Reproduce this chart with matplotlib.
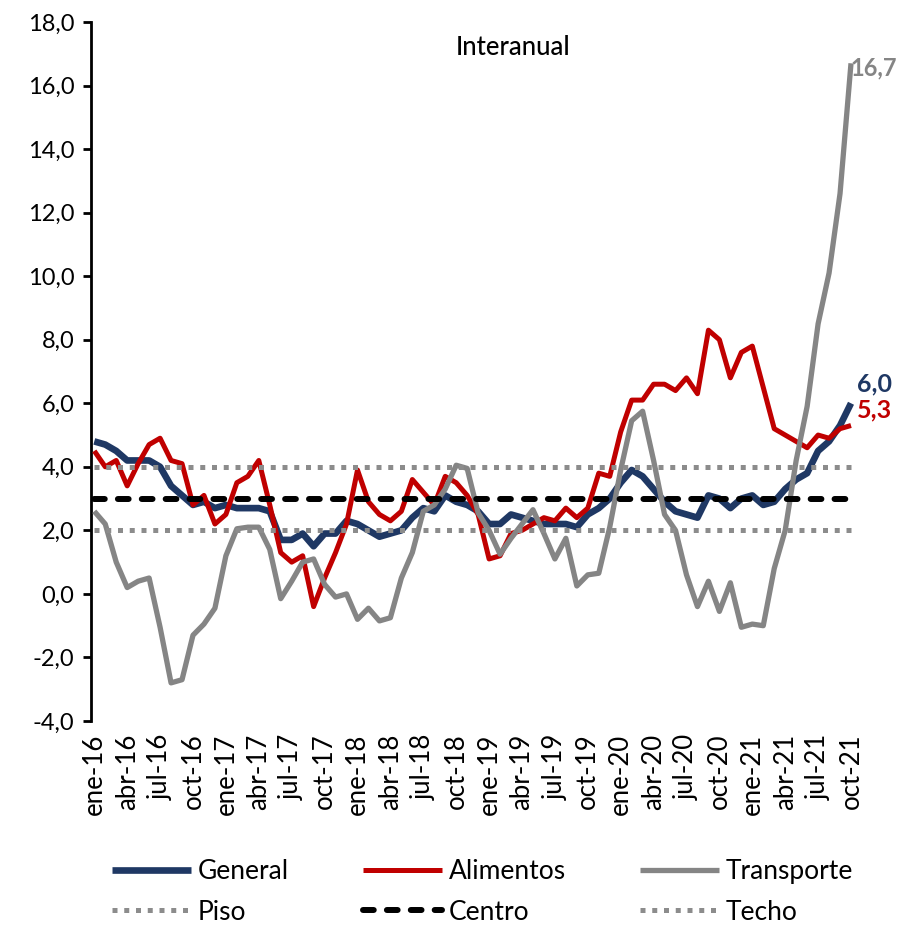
import matplotlib
matplotlib.use("Agg")
import matplotlib.pyplot as plt
from matplotlib.ticker import FuncFormatter

plt.rcParams['font.family'] = ['Lato', 'DejaVu Sans']

# ---------------- data (ene-16 .. oct-21, monthly) ----------------
general = [4.8, 4.7, 4.5, 4.2, 4.2, 4.2, 4.0, 3.4, 3.1, 2.8, 2.9, 2.7,
           2.8, 2.7, 2.7, 2.7, 2.6, 1.7, 1.7, 1.9, 1.5, 1.9, 1.9, 2.3,
           2.2, 2.0, 1.8, 1.9, 2.0, 2.4, 2.7, 2.6, 3.1, 2.9, 2.8, 2.6,
           2.2, 2.2, 2.5, 2.4, 2.3, 2.2, 2.2, 2.2, 2.1, 2.5, 2.7, 3.0,
           3.5, 3.9, 3.7, 3.3, 2.9, 2.6, 2.5, 2.4, 3.1, 3.0, 2.7, 3.0,
           3.1, 2.8, 2.9, 3.3, 3.6, 3.8, 4.5, 4.8, 5.3, 6.0]
alimentos = [4.5, 4.0, 4.2, 3.4, 4.1, 4.7, 4.9, 4.2, 4.1, 2.8, 3.1, 2.2,
             2.5, 3.5, 3.7, 4.2, 2.8, 1.3, 1.0, 1.2, -0.4, 0.5, 1.3, 2.2,
             3.9, 2.9, 2.5, 2.3, 2.6, 3.6, 3.2, 2.8, 3.7, 3.5, 3.1, 2.5,
             1.1, 1.2, 1.9, 2.0, 2.2, 2.4, 2.3, 2.7, 2.4, 2.7, 3.8, 3.7,
             5.1, 6.1, 6.1, 6.6, 6.6, 6.4, 6.8, 6.3, 8.3, 8.0, 6.8, 7.6,
             7.8, 6.5, 5.2, 5.0, 4.8, 4.6, 5.0, 4.9, 5.2, 5.3]
transporte = [2.6, 2.2, 1.0, 0.2, 0.4, 0.5, -1.05, -2.8, -2.7, -1.3, -0.95, -0.45,
              1.2, 2.05, 2.1, 2.1, 1.4, -0.15, 0.4, 1.0, 1.1, 0.3, -0.1, 0.0,
              -0.8, -0.45, -0.85, -0.75, 0.5, 1.3, 2.6, 2.8, 3.3, 4.05, 3.95, 2.55,
              2.0, 1.25, 1.75, 2.2, 2.65, 1.9, 1.1, 1.75, 0.25, 0.6, 0.65, 2.1,
              3.9, 5.45, 5.75, 4.2, 2.5, 2.0, 0.6, -0.4, 0.4, -0.55, 0.35, -1.05,
              -0.95, -1.0, 0.8, 2.0, 4.2, 5.9, 8.5, 10.1, 12.6, 16.7]
piso_value = 2.0
centro_value = 3.0
techo_value = 4.0
tick_labels = ['ene-16', 'abr-16', 'jul-16', 'oct-16', 'ene-17', 'abr-17',
               'jul-17', 'oct-17', 'ene-18', 'abr-18', 'jul-18', 'oct-18',
               'ene-19', 'abr-19', 'jul-19', 'oct-19', 'ene-20', 'abr-20',
               'jul-20', 'oct-20', 'ene-21', 'abr-21', 'jul-21', 'oct-21']
tick_step = 3

# ---------------- styling ----------------
C_GEN = '#1F3864'
C_ALI = '#C00000'
C_TRA = '#858585'
C_BAND = '#8C8C8C'

n = len(general)
x = list(range(n))

fig = plt.figure(figsize=(9.02, 9.26), dpi=100)
ax = fig.add_axes([91 / 902, 1 - 721 / 926, (851 - 91) / 902, (721 - 22) / 926])

l_gen, = ax.plot(x, general, color=C_GEN, lw=4.8, solid_joinstyle='round',
                 solid_capstyle='butt', clip_on=False, zorder=3)
l_ali, = ax.plot(x, alimentos, color=C_ALI, lw=3.6, solid_joinstyle='round',
                 solid_capstyle='butt', clip_on=False, zorder=4)
l_tra, = ax.plot(x, transporte, color=C_TRA, lw=3.8, solid_joinstyle='round',
                 solid_capstyle='butt', clip_on=False, zorder=5)

dot_style = dict(color=C_BAND, lw=3.6, linestyle=(0, (1, 1.35)),
                 dash_capstyle='butt', clip_on=False)
l_piso, = ax.plot(x, [piso_value] * n, zorder=6, **dot_style)
l_cen, = ax.plot(x, [centro_value] * n, color='black', lw=4.3,
                 linestyle=(0, (1.8, 2.2)), dash_capstyle='round',
                 clip_on=False, zorder=7)
l_techo, = ax.plot(x, [techo_value] * n, zorder=8, **dot_style)

ax.set_xlim(-0.3, n - 1)
ax.set_ylim(-4, 18)
ax.set_yticks(range(-4, 19, 2))
ax.yaxis.set_major_formatter(FuncFormatter(lambda v, p: f"{v:.1f}".replace('.', ',')))
ax.set_xticks(x[::tick_step])
ax.set_xticklabels(tick_labels, rotation=90)

for s in ['top', 'right', 'bottom']:
    ax.spines[s].set_visible(False)
ax.spines['left'].set_linewidth(2.0)
ax.spines['left'].set_color('black')
ax.tick_params(axis='y', direction='out', length=6, width=2, labelsize=17, pad=6)
ax.tick_params(axis='x', length=0, labelsize=18.5, pad=9)

ax.text(0.555, 0.963, 'Interanual', transform=ax.transAxes, ha='center',
        va='center', fontsize=18.5, color='black', fontweight='medium')

def fmt(v):
    return f"{v:.1f}".replace('.', ',')

ax.annotate(fmt(transporte[-1]), xy=(n - 1, transporte[-1]), xytext=(-0.5, -3),
            textcoords='offset points', ha='left', va='center', fontsize=17,
            fontweight='bold', color=C_TRA, annotation_clip=False)
ax.annotate(fmt(general[-1]), xy=(n - 1, general[-1]), xytext=(4.5, 14),
            textcoords='offset points', ha='left', va='center', fontsize=18,
            fontweight='bold', color=C_GEN, annotation_clip=False)
ax.annotate(fmt(alimentos[-1]), xy=(n - 1, alimentos[-1]), xytext=(4.5, 11),
            textcoords='offset points', ha='left', va='center', fontsize=18,
            fontweight='bold', color=C_ALI, annotation_clip=False)

handles = [l_gen, l_piso, l_ali, l_cen, l_tra, l_techo]
labels = ['General', 'Piso', 'Alimentos', 'Centro', 'Transporte', 'Techo']
fig.legend(handles, labels, ncol=3, loc='center', bbox_to_anchor=(0.535, 0.037),
           frameon=False, fontsize=19, handlelength=3.0, handletextpad=0.25,
           columnspacing=2.8, labelspacing=0.6, borderpad=0.2)

fig.savefig('out.png', dpi=100)
